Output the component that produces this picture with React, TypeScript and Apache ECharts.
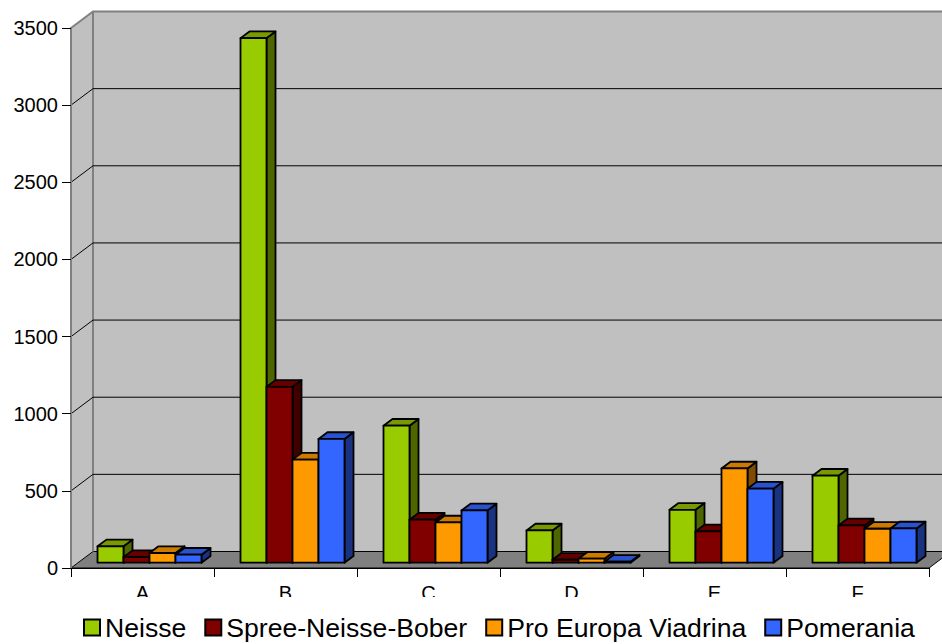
import React, { useEffect, useRef } from "react";
import * as echarts from "echarts";

const categories = ["A", "B", "C", "D", "E", "F"];
const seriesNames = ["Neisse", "Spree-Neisse-Bober", "Pro Europa Viadrina", "Pomerania"];
const neisse = [106, 3400, 888, 209, 343, 564];
const spree = [36, 1140, 279, 19, 203, 242];
const proEuropa = [63, 668, 261, 26, 611, 220];
const pomerania = [52, 802, 339, 6, 480, 222];
const gridValues = [0, 500, 1000, 1500, 2000, 2500, 3000, 3500];

const frontColors = ["#99cc00", "#800000", "#ff9900", "#3366ff"];
const topColors = ["#7a9900", "#660000", "#cc7a00", "#2952cc"];
const sideColors = ["#4d6600", "#400000", "#804d00", "#1a3380"];

// 3D geometry (pixels)
const WALL_DX = 22;
const WALL_DY = -16.5;
const BAR_SX = 7;
const BAR_SY = -5.3;
const BAR_DX = 9;
const BAR_DY = -6.7;

export default function App() {
  const ref = useRef<HTMLDivElement>(null);
  useEffect(() => {
    document.body.style.margin = "0";
    const chart = echarts.init(ref.current!, null, { renderer: "svg" });
    const allData = [neisse, spree, proEuropa, pomerania];

    const wallSeries = {
      type: "custom",
      name: "walls",
      z: 1,
      silent: true,
      data: gridValues.map((v) => [0, v]),
      renderItem: (params: any, api: any) => {
        const cs = params.coordSys;
        const L = cs.x;
        const R = cs.x + cs.width;
        const B = api.coord([0, 0])[1];
        const T = api.coord([0, gridValues[gridValues.length - 1]])[1];
        const v = api.value(1);
        const y = api.coord([0, v])[1];
        const children: any[] = [];
        if (params.dataIndex === 0) {
          children.push({
            type: "polygon",
            shape: { points: [[L, B], [L, T], [L + WALL_DX, T + WALL_DY], [L + WALL_DX, B + WALL_DY]] },
            style: { fill: "#c0c0c0", stroke: "none" },
          });
          children.push({
            type: "rect",
            shape: { x: L + WALL_DX, y: T + WALL_DY, width: R - L, height: B - T },
            style: { fill: "#c0c0c0", stroke: "none" },
          });
          children.push({
            type: "polygon",
            shape: { points: [[L, B], [R, B], [R + WALL_DX, B + WALL_DY], [L + WALL_DX, B + WALL_DY]] },
            style: { fill: "#808080", stroke: "#000", lineWidth: 1 },
          });
          children.push({
            type: "line",
            shape: { x1: L + WALL_DX, y1: T + WALL_DY, x2: L + WALL_DX, y2: B + WALL_DY },
            style: { stroke: "#808080", lineWidth: 2 },
          });
        } else if (params.dataIndex === gridValues.length - 1) {
          children.push({
            type: "polyline",
            shape: { points: [[L, y], [L + WALL_DX, y + WALL_DY], [R + WALL_DX, y + WALL_DY]] },
            style: { stroke: "#808080", lineWidth: 2, fill: "none" },
          });
        } else {
          children.push({
            type: "polyline",
            shape: { points: [[L, y], [L + WALL_DX, y + WALL_DY], [R + WALL_DX, y + WALL_DY]] },
            style: { stroke: "#000", lineWidth: 1, fill: "none" },
          });
        }
        return { type: "group", children };
      },
    };

    const barSeries = seriesNames.map((name, si) => ({
      type: "custom",
      name,
      z: 2,
      itemStyle: { color: frontColors[si] },
      data: allData[si].map((v, ci) => [ci, v]),
      renderItem: (params: any, api: any) => {
        const ci = api.value(0);
        const v = api.value(1);
        const band = api.size([1, 0])[0];
        const w = band * 0.1818;
        const center = api.coord([ci, 0])[0];
        const x0 = center - 2 * w + si * w + BAR_SX;
        const yb = api.coord([ci, 0])[1] + BAR_SY;
        const yt = api.coord([ci, v])[1] + BAR_SY;
        const st = { stroke: "#000", lineWidth: 1.8, lineJoin: "round" };
        return {
          type: "group",
          children: [
            {
              type: "polygon",
              shape: { points: [[x0 + w, yt], [x0 + w + BAR_DX, yt + BAR_DY], [x0 + w + BAR_DX, yb + BAR_DY], [x0 + w, yb]] },
              style: { fill: sideColors[si], ...st },
            },
            {
              type: "polygon",
              shape: { points: [[x0, yt], [x0 + BAR_DX, yt + BAR_DY], [x0 + w + BAR_DX, yt + BAR_DY], [x0 + w, yt]] },
              style: { fill: topColors[si], ...st },
            },
            {
              type: "rect",
              shape: { x: x0, y: yt, width: w, height: yb - yt },
              style: { fill: frontColors[si], ...st },
            },
          ],
        };
      },
    }));

    chart.setOption({
      animation: false,
      color: frontColors,
      textStyle: { fontFamily: "Liberation Sans", color: "#000" },
      grid: { left: 71, top: 28, width: 858, height: 540, containLabel: false },
      xAxis: {
        type: "category",
        data: categories,
        z: 5,
        axisLine: { show: true, lineStyle: { color: "#000", width: 1 } },
        axisTick: { show: true, length: 9, lineStyle: { color: "#000" } },
        axisLabel: { fontSize: 20, color: "#000", margin: 15, fontFamily: "Liberation Sans" },
        splitLine: { show: false },
      },
      yAxis: {
        type: "value",
        min: 0,
        max: 3500,
        interval: 500,
        z: 5,
        axisLine: { show: true, lineStyle: { color: "#808080", width: 2 } },
        axisTick: { show: true, length: 9, lineStyle: { color: "#000" } },
        axisLabel: {
          fontSize: 20,
          color: "#000",
          margin: 13,
          fontFamily: "Liberation Sans",
          formatter: (v: number) => String(v),
        },
        splitLine: { show: false },
      },
      legend: {
        left: 78,
        top: 609,
        icon: "rect",
        itemWidth: 16,
        itemHeight: 16,
        itemGap: 18,
        itemStyle: { borderColor: "#000", borderWidth: 2 },
        textStyle: { fontSize: 26.6, color: "#000", fontFamily: "Liberation Sans" },
        data: seriesNames,
      },
      graphic: [
        {
          type: "rect",
          z: 100,
          shape: { x: 60, y: 597, width: 882, height: 11 },
          style: { fill: "#fff" },
        },
      ],
      series: [wallSeries, ...barSeries],
    });
    return () => chart.dispose();
  }, []);
  return <div ref={ref} style={{ width: 942, height: 644 }} />;
}
